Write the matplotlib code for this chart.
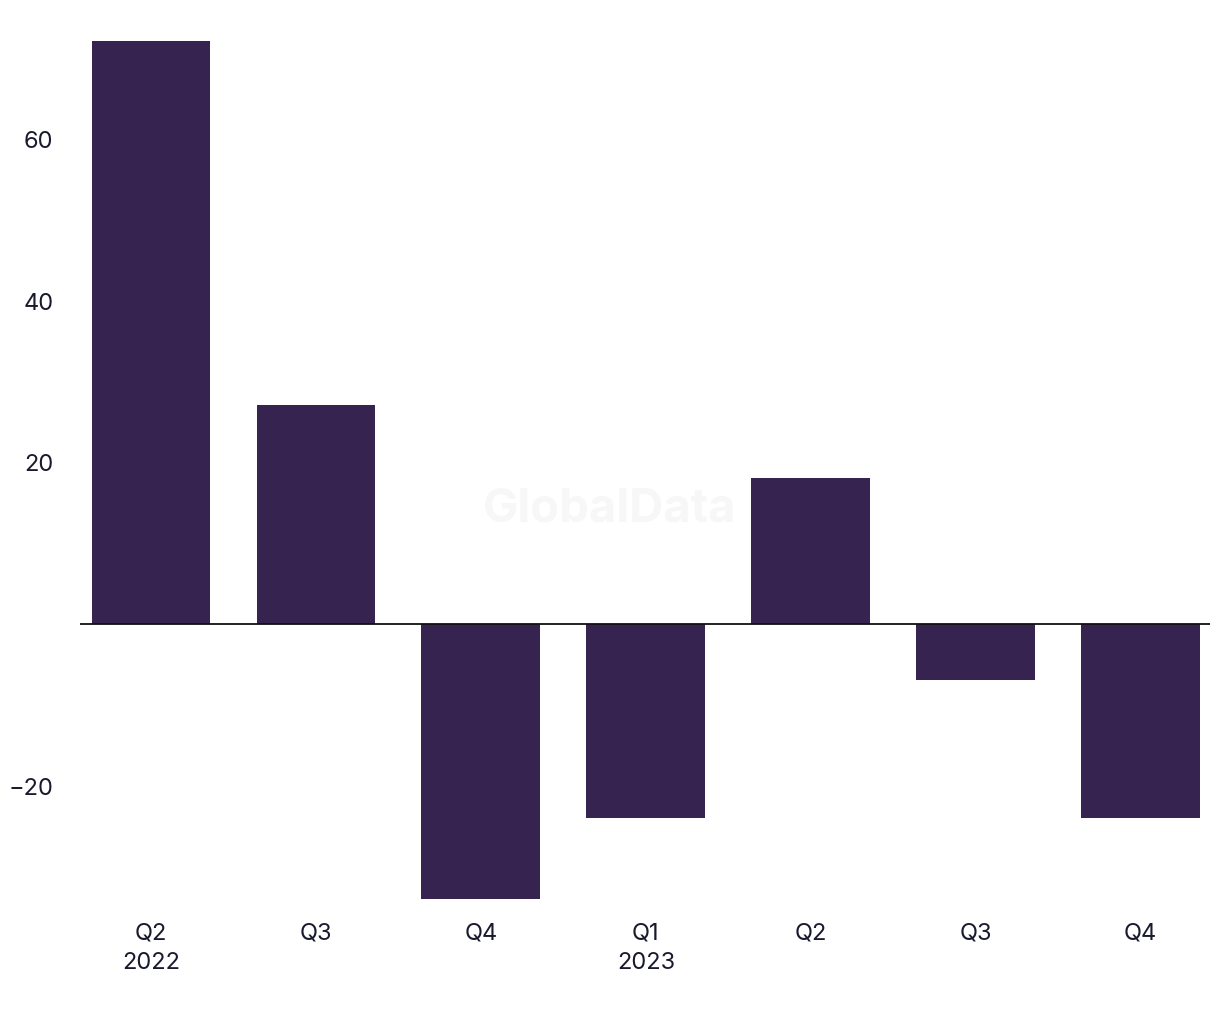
import matplotlib.pyplot as plt

# Values
quarters = ["Q2\n2022", "Q3", "Q4", "Q1\n2023", "Q2", "Q3", "Q4"]
values = [72, 27, -34, -24, 18, -7, -24]
y_ticks = [-20, 20, 40, 60]

bar_color = "#36234f"
text_color = "#1a1a2e"

plt.rcParams["font.family"] = ["Inter", "DejaVu Sans"]

fig = plt.figure(figsize=(12.2, 10.2), dpi=100)
ax = fig.add_axes([80 / 1220, 1 - 900 / 1020, (1210 - 80) / 1220, (900 - 42) / 1020])

x = list(range(len(values)))
ax.bar(x, values, width=0.72, color=bar_color, zorder=2)
ax.axhline(0, color="#111111", linewidth=1.3, zorder=3)

ax.set_xlim(-0.43, 6.42)
ax.set_ylim(-34, 72)
ax.set_xticks(x)
ax.set_xticklabels(quarters, fontsize=17, color=text_color, linespacing=1.45)
ax.set_yticks(y_ticks)
ax.set_yticklabels([str(t).replace("-", "\u2212") for t in y_ticks], fontsize=17, color=text_color)
ax.tick_params(axis="both", length=0)
ax.tick_params(axis="x", pad=16)
ax.tick_params(axis="y", pad=19)
for spine in ax.spines.values():
    spine.set_visible(False)

# faint watermark
fig.text(0.5, 0.5, "GlobalData", fontsize=34, fontweight="bold", color="#f7f7f7",
         ha="center", va="center", zorder=1)

fig.savefig("out.png", dpi=100)
